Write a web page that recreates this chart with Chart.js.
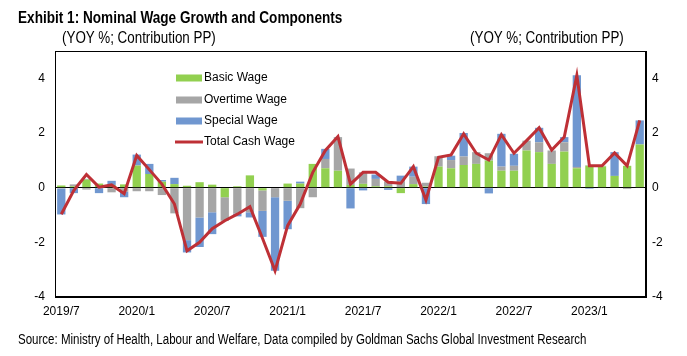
<!DOCTYPE html>
<html><head><meta charset="utf-8">
<script src="https://cdn.jsdelivr.net/npm/chart.js@4.4.0/dist/chart.umd.min.js"></script>
<style>
html,body{margin:0;padding:0;background:#fff;}
#wrap{position:relative;width:687px;height:356px;overflow:hidden;background:#fff;}
#c{position:absolute;left:0;top:0;}
.t{position:absolute;white-space:nowrap;color:#000;font-family:'Liberation Sans',Arial,sans-serif;line-height:1;transform-origin:0 50%;}
</style></head><body>
<div id="wrap">
<canvas id="c" width="687" height="356"></canvas>
<div class="t" style="left:18px;top:10px;font-size:16px;font-weight:bold;transform:scaleX(0.85);">Exhibit 1: Nominal Wage Growth and Components</div>
<div class="t" style="left:62px;top:30px;font-size:16px;transform:scaleX(0.837);">(YOY %; Contribution PP)</div>
<div class="t" style="left:470px;top:30px;font-size:16px;transform:scaleX(0.837);">(YOY %; Contribution PP)</div>
<div class="t" style="left:18px;top:332px;font-size:14px;transform:scaleX(0.823);">Source: Ministry of Health, Labour and Welfare, Data compiled by Goldman Sachs Global Investment Research</div>
</div>
<script>
const months = ["2019/7","2019/8","2019/9","2019/10","2019/11","2019/12",
  "2020/1","2020/2","2020/3","2020/4","2020/5","2020/6","2020/7","2020/8","2020/9","2020/10","2020/11","2020/12",
  "2021/1","2021/2","2021/3","2021/4","2021/5","2021/6","2021/7","2021/8","2021/9","2021/10","2021/11","2021/12",
  "2022/1","2022/2","2022/3","2022/4","2022/5","2022/6","2022/7","2022/8","2022/9","2022/10","2022/11","2022/12",
  "2023/1","2023/2","2023/3","2023/4","2023/5"];
const basicWage = [0.08,0.05,0.30,0.15,0.10,0.12,
  0.81,0.50,0.22,0.13,0.07,0.20,0.11,-0.35,0.05,0.45,-0.10,0.00,
  0.15,0.15,0.87,0.71,0.62,0.10,0.14,0.05,0.05,-0.20,0.13,0.04,
  0.77,0.71,0.83,0.87,0.99,0.62,0.62,1.36,1.30,0.87,1.32,0.71,
  0.80,0.78,0.43,0.80,1.58];
const overtimeWage = [-0.03,0.07,-0.07,0.00,-0.17,-0.15,
  -0.13,-0.13,-0.27,-0.94,-1.92,-1.09,-0.90,-0.86,-0.95,-0.90,-0.75,-0.35,
  -0.48,-0.75,-0.35,0.34,1.23,0.60,0.42,0.27,0.18,0.24,0.27,0.14,
  0.38,0.30,0.31,0.43,0.27,0.15,0.18,0.36,0.36,0.49,0.34,0.05,
  0.02,0.02,0.00,-0.05,0.00];
const specialWage = [-0.95,-0.20,0.02,-0.20,0.15,-0.20,
  0.40,0.37,0.06,0.23,-0.45,-1.08,-0.80,0.00,-0.10,-0.19,-0.95,-2.69,
  -1.04,0.07,0.00,0.37,0.00,-0.76,-0.10,0.16,-0.08,0.20,0.37,-0.60,
  0.00,0.16,0.86,0.00,-0.21,1.20,0.44,0.00,0.53,0.00,0.19,3.35,
  -0.04,0.00,0.87,0.00,0.88];
const totalCashWage = [-0.97,-0.10,0.48,0.02,0.10,-0.22,
  1.18,0.66,0.13,-0.60,-2.31,-2.00,-1.50,-1.21,-0.97,-0.70,-1.85,-3.04,
  -1.39,-0.60,0.56,1.36,1.87,0.13,0.56,0.56,0.20,0.16,0.77,-0.45,
  1.11,1.20,1.97,1.26,1.01,1.94,1.26,1.72,2.19,1.38,1.85,4.11,
  0.80,0.80,1.27,0.80,2.46];
const yTicks = [-4,-2,0,2,4];

const GREEN = '#92D050', GRAY = '#A6A6A6', BLUE = '#7097D0', RED = '#BE3036';
const tickFont = {family: "'Liberation Sans', Arial, sans-serif", size: 12};

const framePlugin = {
  id: 'frame',
  afterDraw(chart) {
    const {ctx, chartArea: a} = chart;
    ctx.save();
    ctx.strokeStyle = '#000';
    ctx.lineWidth = 1;
    ctx.strokeRect(Math.round(a.left) + 0.5, Math.round(a.top) + 0.5, Math.round(a.right - a.left) - 1, Math.round(a.bottom - a.top) - 1);
    ctx.restore();
  }
};
const legendPlugin = {
  id: 'innerLegend',
  afterDraw(chart) {
    const ctx = chart.ctx;
    const ds = chart.data.datasets;
    const order = [1, 2, 3, 0];
    const x0 = 176, sw = 26, ys = [78, 100, 121, 142];
    ctx.save();
    ctx.font = "12px 'Liberation Sans', Arial, sans-serif";
    ctx.textBaseline = 'middle';
    order.forEach((di, k) => {
      const d = ds[di];
      const y = ys[k];
      if (d.type === 'line') {
        ctx.strokeStyle = d.borderColor;
        ctx.lineWidth = 3;
        ctx.beginPath(); ctx.moveTo(x0 - 1, y); ctx.lineTo(x0 + sw + 1, y); ctx.stroke();
      } else {
        ctx.fillStyle = d.backgroundColor;
        ctx.fillRect(x0, y - 3.5, sw, 7);
      }
      ctx.fillStyle = '#000';
      ctx.fillText(d.label, x0 + sw + 2, y);
    });
    ctx.restore();
  }
};

new Chart(document.getElementById('c'), {
  type: 'bar',
  data: {
    labels: months,
    datasets: [
      {type: 'line', label: 'Total Cash Wage', data: totalCashWage, borderColor: RED, backgroundColor: RED,
       borderWidth: 3, pointRadius: 0, tension: 0, stack: 'total', order: 0, yAxisID: 'y'},
      {label: 'Basic Wage', data: basicWage, backgroundColor: GREEN, stack: 'c', order: 1},
      {label: 'Overtime Wage', data: overtimeWage, backgroundColor: GRAY, stack: 'c', order: 1},
      {label: 'Special Wage', data: specialWage, backgroundColor: BLUE, stack: 'c', order: 1}
    ]
  },
  options: {
    responsive: false, animation: false, devicePixelRatio: 1,
    layout: {padding: {top: 51, left: 0, right: 0, bottom: 0}},
    plugins: {legend: {display: false}, tooltip: {enabled: false}},
    datasets: {bar: {barPercentage: 0.66, categoryPercentage: 1}},
    scales: {
      x: {
        stacked: true,
        grid: {display: false, drawTicks: false},
        border: {display: true, color: '#000'},
        ticks: {autoSkip: false, maxRotation: 0, minRotation: 0, padding: 7, color: '#000', font: tickFont,
                callback: (v, i) => (i % 6 === 0 ? months[i] : '')},
        afterFit(s) { s.height = 59; }
      },
      y: {
        stacked: true, min: -4, max: 5, position: 'left',
        afterBuildTicks(s) { s.ticks = yTicks.map(v => ({value: v})); },
        grid: {drawTicks: false, lineWidth: 1,
               color: c => (c.tick && c.tick.value === 0 ? '#000' : 'rgba(0,0,0,0)')},
        border: {display: true, color: '#000'},
        ticks: {padding: 10, color: '#000', font: tickFont},
        afterFit(s) { s.width = 55; }
      },
      y2: {
        min: -4, max: 5, position: 'right',
        afterBuildTicks(s) { s.ticks = yTicks.map(v => ({value: v})); },
        grid: {display: false, drawTicks: false},
        border: {display: true, color: '#000'},
        ticks: {padding: 6, color: '#000', font: tickFont},
        afterFit(s) { s.width = 41; }
      }
    }
  },
  plugins: [framePlugin, legendPlugin]
});
</script>
</body></html>
